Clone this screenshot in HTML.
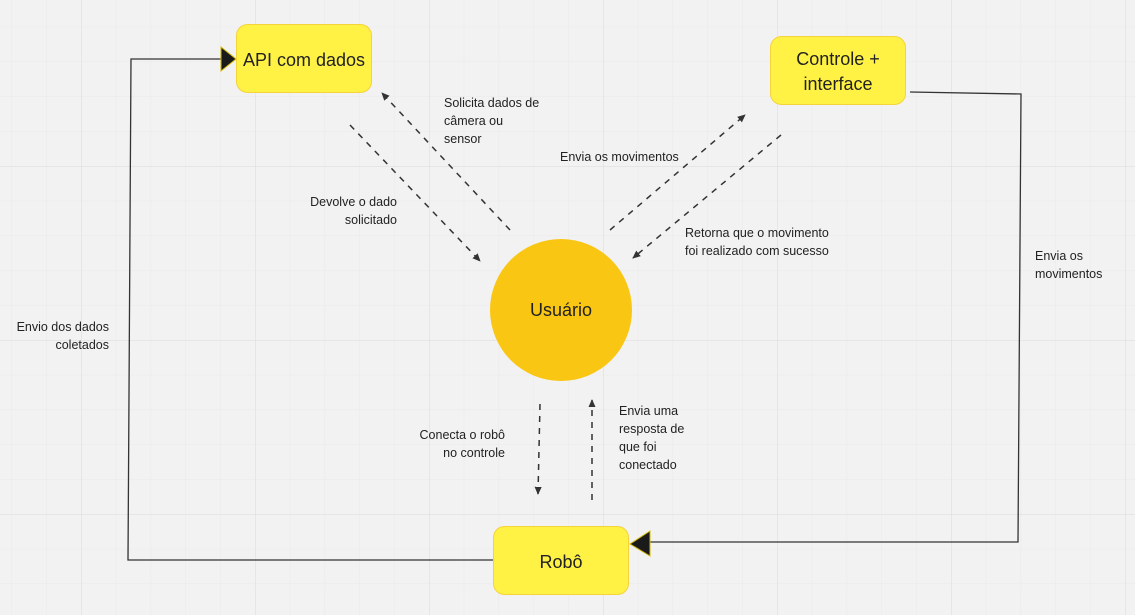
<!DOCTYPE html>
<html><head><meta charset="utf-8"><style>
html,body{margin:0;padding:0;background:#f2f2f2}
svg{display:block}
text{font-family:"Liberation Sans","DejaVu Sans",sans-serif;fill:#222}
.s{font-size:12.5px}
</style></head><body>
<svg width="1135" height="615" viewBox="0 0 1135 615" xmlns="http://www.w3.org/2000/svg">
<defs>
<pattern id="minor" x="81" y="-8" width="34.8" height="34.8" patternUnits="userSpaceOnUse">
<path d="M0 0V34.8M0 0H34.8" stroke="#e9e9e9" stroke-width="1" fill="none"/>
</pattern>
<pattern id="major" x="81" y="-8" width="174" height="174" patternUnits="userSpaceOnUse">
<path d="M0 0V174M0 0H174" stroke="#dedede" stroke-width="1.2" fill="none"/>
</pattern>
<marker id="ah" viewBox="0 0 10 10" refX="8" refY="5" markerWidth="6" markerHeight="6" orient="auto">
<path d="M0 1L9 5L0 9z" fill="#333"/>
</marker>
</defs>
<rect width="1135" height="615" fill="#f2f2f2"/>
<rect width="1135" height="615" fill="url(#minor)"/>
<rect width="1135" height="615" fill="url(#major)"/>

<!-- solid connectors -->
<polyline points="221,59 131,59 128,560 494,560" fill="none" stroke="#333" stroke-width="1.3"/>
<path d="M221,47 L236,59 L221,71 Z" fill="#1a1a1a" stroke="#d4b800" stroke-width="1"/>
<polyline points="910,92 1021,94 1018,542 650,542" fill="none" stroke="#333" stroke-width="1.3"/>
<path d="M650,531 L630,544 L650,556 Z" fill="#1a1a1a" stroke="#d4b800" stroke-width="1"/>

<!-- dashed connectors -->
<g stroke="#333" stroke-width="1.5" stroke-dasharray="6,6" fill="none">
<line x1="350" y1="125" x2="480" y2="261" marker-end="url(#ah)"/>
<line x1="510" y1="230" x2="382" y2="93" marker-end="url(#ah)"/>
<line x1="610" y1="230" x2="745" y2="115" marker-end="url(#ah)"/>
<line x1="781" y1="135" x2="633" y2="258" marker-end="url(#ah)"/>
<line x1="540" y1="404" x2="538" y2="494" marker-end="url(#ah)"/>
<line x1="592" y1="500" x2="592" y2="400" marker-end="url(#ah)"/>
</g>

<!-- nodes -->
<rect x="236.5" y="24.5" width="135" height="68" rx="11" fill="#fff245" stroke="#f5d33a"/>
<text x="304" y="66" font-size="18" text-anchor="middle">API com dados</text>
<rect x="770.5" y="36.5" width="135" height="68" rx="11" fill="#fff245" stroke="#f5d33a"/>
<text x="838" y="65" font-size="18" text-anchor="middle">Controle +</text>
<text x="838" y="90" font-size="18" text-anchor="middle">interface</text>
<rect x="493.5" y="526.5" width="135" height="68" rx="11" fill="#fff245" stroke="#f5d33a"/>
<text x="561" y="568" font-size="18" text-anchor="middle">Robô</text>
<circle cx="561" cy="310" r="71" fill="#f9c614"/>
<text x="561" y="316" font-size="18" text-anchor="middle">Usuário</text>

<!-- labels -->
<g class="s">
<text x="444" y="107">Solicita dados de</text>
<text x="444" y="125">câmera ou</text>
<text x="444" y="143">sensor</text>
<text x="397" y="206" text-anchor="end">Devolve o dado</text>
<text x="397" y="224" text-anchor="end">solicitado</text>
<text x="560" y="161">Envia os movimentos</text>
<text x="685" y="237">Retorna que o movimento</text>
<text x="685" y="255">foi realizado com sucesso</text>
<text x="1035" y="260">Envia os</text>
<text x="1035" y="278">movimentos</text>
<text x="109" y="331" text-anchor="end">Envio dos dados</text>
<text x="109" y="349" text-anchor="end">coletados</text>
<text x="505" y="439" text-anchor="end">Conecta o robô</text>
<text x="505" y="457" text-anchor="end">no controle</text>
<text x="619" y="415">Envia uma</text>
<text x="619" y="433">resposta de</text>
<text x="619" y="451">que foi</text>
<text x="619" y="469">conectado</text>
</g>
</svg>
</body></html>
